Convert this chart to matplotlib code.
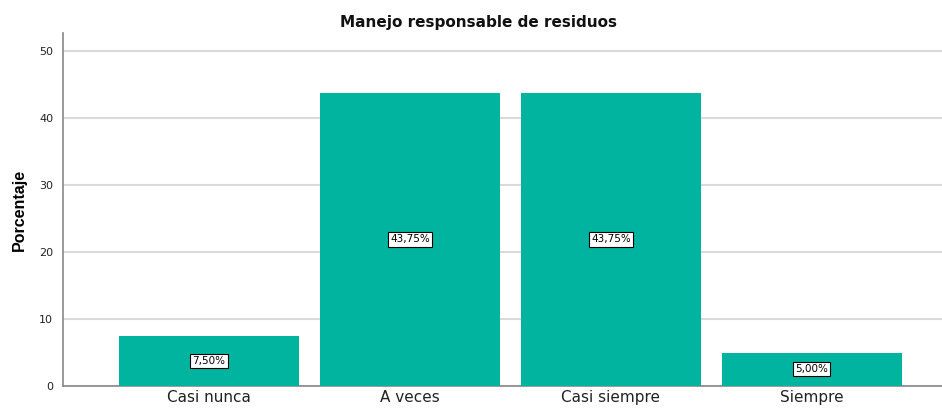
import numpy as np
import matplotlib
matplotlib.use("Agg")
import matplotlib.pyplot as plt

# Datos
categorias = ["Casi nunca", "A veces", "Casi siempre", "Siempre"]
porcentajes = [7.50, 43.75, 43.75, 5.00]
etiquetas = ["7,50%", "43,75%", "43,75%", "5,00%"]
yticks = [0, 10, 20, 30, 40, 50]

fig = plt.figure(figsize=(9.42, 4.08), dpi=100)
ax = fig.add_axes([63/942, 22/408, 879/942, 353/408])

x = np.arange(len(categorias))
ax.bar(x, porcentajes, width=0.895, color="#00B4A0", zorder=3)

# Etiquetas en el centro de cada barra
for xi, val, txt in zip(x, porcentajes, etiquetas):
    ax.text(xi, val / 2, txt, ha="center", va="center", fontsize=7.5, zorder=4,
            bbox=dict(boxstyle="square,pad=0.2", fc="white", ec="black", lw=0.8))

ax.set_xlim(-0.726, 3.647)
ax.set_ylim(0, 52.7)
ax.set_yticks(yticks)
ax.set_xticks(x)
ax.set_xticklabels(categorias, fontsize=11, color="#222222")
ax.tick_params(axis="y", length=0, labelsize=8, colors="#222222", pad=7)
ax.tick_params(axis="x", length=0, pad=3)
ax.grid(axis="y", color="#d9d9d9", linewidth=1.5, zorder=0)

for s in ["top", "right"]:
    ax.spines[s].set_visible(False)
ax.spines["left"].set_color("#888888")
ax.spines["left"].set_linewidth(1.2)
ax.spines["bottom"].set_color("#888888")
ax.spines["bottom"].set_linewidth(1.2)

ax.set_ylabel("Porcentaje", fontsize=11.5, fontweight="bold", family="Liberation Sans", labelpad=9)
fig.text(478/942, 1 - 22/408, "Manejo responsable de residuos", ha="center", va="center",
         fontsize=11, fontweight="bold", color="#111111")

plt.savefig("out.png", dpi=100)
